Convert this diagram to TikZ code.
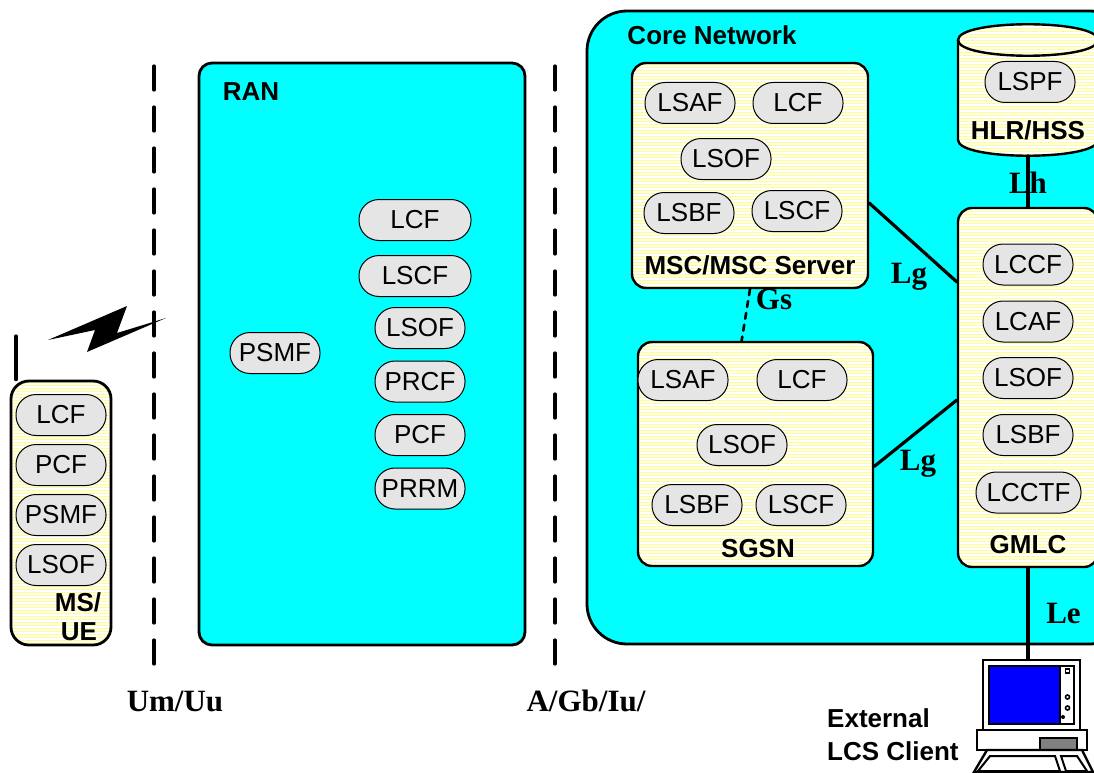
\documentclass[tikz,border=0pt]{standalone}
\usepackage{fontspec}
\setmainfont{Liberation Sans}
\newfontfamily\lblfont{Liberation Serif}
\usetikzlibrary{patterns}
\definecolor{netcyan}{RGB}{0,255,255}
\definecolor{funcgray}{RGB}{229,229,229}

\begin{document}
\begin{tikzpicture}[x=1pt,y=-1pt,line cap=round]
	\tikzstyle{net}=[draw,line width=2.8pt,fill=netcyan];
	\tikzstyle{stripes}=[preaction={fill=white},pattern=horizontal lines,pattern color=yellow!45];
	\tikzstyle{entity}=[draw,line width=2.4pt,stripes,rounded corners=14pt,inner sep=0pt];
	\tikzstyle{func}=[draw,line width=1pt,fill=funcgray,rounded corners=20pt,minimum width=90pt,minimum height=41pt,inner sep=0pt,font=\fontsize{26}{26}\selectfont];
	\tikzstyle{widefunc}=[func,minimum width=112pt];
	\tikzstyle{title}=[inner sep=0pt,font=\fontsize{26}{26}\selectfont\bfseries];
	\tikzstyle{iface}=[inner sep=0pt,font=\fontsize{31}{31}\selectfont\lblfont\bfseries];
	\tikzstyle{link}=[line width=3.2pt];
	\tikzstyle{cut}=[line width=3.2pt,dash pattern=on 24pt off 17pt];

	\useasboundingbox (0,0) rectangle (1094,773);

	% networks
	\draw[net,rounded corners=40pt] (587,11) rectangle (1130,644);
	\draw[net,rounded corners=13pt] (199,63) rectangle (525,645);
	\draw[cut] (154,66) -- (154,665);
	\draw[cut] (555,66) -- (555,665);

	% MS/UE
	\node[entity,line width=2.8pt,rounded corners=18pt,minimum width=100pt,minimum height=264pt] (ms) at (61,513) {};
	\coordinate (aerial) at (16,336);
	\draw[link] (aerial) -- (aerial |- ms.north);
	\fill (48,340) -- (127,306) -- (117,333) -- (166,318) -- (87,352) -- (95,330) -- cycle;
	\node[func] (ms1) at (61,415) {LCF};
	\node[func] (ms2) at (61,465) {PCF};
	\node[func] (ms3) at (61,515) {PSMF};
	\node[func] (ms4) at (61,565) {LSOF};
	\node[title] (mslbl1) at (78,602) {MS/};
	\node[title] (mslbl2) at (79,632) {UE};

	% RAN
	\node[title] (ranlbl) at (251,92) {RAN};
	\node[func] (ran0) at (275,353) {PSMF};
	\node[widefunc] (ran1) at (415,220) {LCF};
	\node[widefunc] (ran2) at (415,276) {LSCF};
	\node[func] (ran3) at (420,328) {LSOF};
	\node[func] (ran4) at (420,381.5) {PRCF};
	\node[func] (ran5) at (420,435) {PCF};
	\node[func] (ran6) at (420,488.5) {PRRM};

	% core network
	\node[title] (corelbl) at (712,35) {Core Network};
	\node[entity,minimum width=236pt,minimum height=225pt] (msc) at (750,175.5) {};
	\node[entity,minimum width=235pt,minimum height=224pt] (sgsn) at (755.5,454) {};
	\node[entity,minimum width=140pt,minimum height=359pt] (gmlc) at (1028,387.5) {};
	\coordinate (hlrfoot) at (1028,156);
	\draw[line width=2.4pt,stripes] (958,40) -- (958,140) .. controls (958,161) and (1098,161) .. (1098,140) -- (1098,40) .. controls (1098,19) and (958,19) .. (958,40) -- cycle;
	\draw[line width=2.4pt] (958,40) .. controls (958,61) and (1098,61) .. (1098,40);

	\draw[link] (msc.-13.3) -- (gmlc.124.7);
	\draw[link] (sgsn.-6.8) -- (gmlc.190.5);
	\draw[link,line width=2.6pt,dash pattern=on 6pt off 6pt] (msc.south) -- (sgsn.97);
	\draw[link] (hlrfoot) -- (gmlc.north);

	\node[func] (msc1) at (690,103) {LSAF};
	\node[func] (msc2) at (798,103) {LCF};
	\node[func] (msc3) at (726,159) {LSOF};
	\node[func] (msc4) at (689,213) {LSBF};
	\node[func] (msc5) at (797,211) {LSCF};
	\node[title] (msclbl) at (750,265) {MSC/MSC Server};

	\node[func] (sgsn1) at (683,380) {LSAF};
	\node[func] (sgsn2) at (802,380) {LCF};
	\node[func] (sgsn3) at (742,445) {LSOF};
	\node[func] (sgsn4) at (697,505) {LSBF};
	\node[func] (sgsn5) at (801,505) {LSCF};
	\node[title] (sgsnlbl) at (758,549) {SGSN};

	\node[func] (hlr1) at (1030,82) {LSPF};
	\node[title] (hlrlbl) at (1028,130) {HLR/HSS};

	\node[func] (gmlc1) at (1028,264.5) {LCCF};
	\node[func] (gmlc2) at (1028,321.5) {LCAF};
	\node[func] (gmlc3) at (1028,378) {LSOF};
	\node[func] (gmlc4) at (1028,435) {LSBF};
	\node[func,minimum width=105pt] (gmlc5) at (1028.5,492.5) {LCCTF};
	\node[title] (gmlclbl) at (1028,545) {GMLC};

	% client terminal
	\node[draw,line width=2.4pt,fill=white,minimum width=97pt,minimum height=70pt,inner sep=0pt] (term) at (1031.5,695) {};
	\draw[link] (gmlc.south) -- (gmlc.south |- term.north);
	\draw[line width=2pt,fill=white] (1060,666) rectangle (1074,724);
	\draw[line width=2pt,fill=blue] (989,666) rectangle (1060,724);
	\draw[line width=1.6pt] (1065.5,669) rectangle (1069.5,673);
	\draw[line width=1.6pt] (1067.5,697) circle (2pt);
	\draw[line width=1.6pt] (1067.5,708) circle (2pt);
	\fill (1063,717) circle (2pt);
	\draw[line width=2.4pt,fill=white] (977,730) rectangle (1087,750);
	\draw[line width=2pt,fill=gray] (1040,738) rectangle (1077,750);
	\draw[line width=2.4pt,fill=white] (974,772) -- (987,750) -- (1082,750) -- (1093,772) -- cycle;
	\draw[line width=2pt] (978,771) -- (990,756) -- (1055,756) -- (1060,771) -- cycle;
	\draw[line width=2pt] (1066,771) -- (1061,756) -- (1077,756) -- (1087,771) -- cycle;
	\node[title,anchor=west] (extlbl1) at (827,718) {External};
	\node[title,anchor=west] (extlbl2) at (827,751) {LCS Client};

	% interfaces
	\node[iface] (um) at (175,701) {Um/Uu};
	\node[iface] (gb) at (586,701) {A/Gb/Iu/};
	\node[iface] (gs) at (774,299) {Gs};
	\node[iface] (lh) at (1028,183) {Lh};
	\node[iface] (lg1) at (909,277) {Lg};
	\node[iface] (lg2) at (918,464) {Lg};
	\node[iface] (le) at (1063.5,613) {Le};
\end{tikzpicture}
\end{document}
